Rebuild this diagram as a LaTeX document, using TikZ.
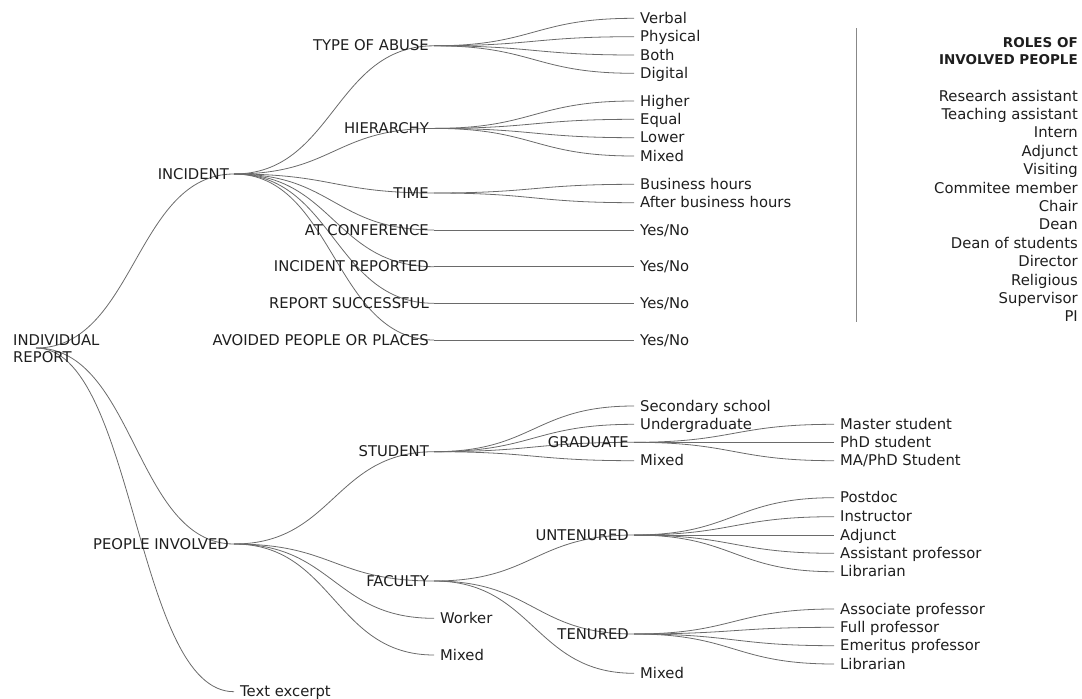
\documentclass[tikz,border=0pt]{standalone}
\usepackage{fontspec}
\setmainfont{DejaVu Sans}
\usepackage{tikz}
\usetikzlibrary{calc,backgrounds}
\definecolor{ink}{HTML}{1E1E1E}
\definecolor{twiggray}{HTML}{6A6A6A}

\tikzset{
  twig/.style={draw=twiggray, line width=0.8pt},
  inlbl/.style={anchor=base east, xshift=-5pt, yshift=-5pt, inner sep=0pt, text=ink},
  leaflbl/.style={anchor=base west, xshift=6pt, yshift=-5pt, inner sep=0pt, text=ink},
  rolelbl/.style={anchor=base east, inner sep=0pt, text=ink},
}

\begin{document}
\begin{tikzpicture}[x=1pt,y=-1pt,font=\fontsize{14.8}{16}\selectfont]
  \useasboundingbox (0,0) rectangle (1082,699);

  % root
  \coordinate (root) at (36,348);
  \node[anchor=north west, align=left, inner sep=0pt, text=ink,
        font=\fontsize{14.8}{17}\selectfont] (rootL) at (13,334.5) {INDIVIDUAL\\REPORT};

  % inner branch points
  \foreach \n/\x/\y/\t in {incident/234/174/INCIDENT, abuse/434/45.8/TYPE OF ABUSE,
      hierarchy/434/128.4/HIERARCHY, time/434/193/TIME, conference/434/230/AT CONFERENCE,
      reported/434/266.7/INCIDENT REPORTED, successful/434/303.3/REPORT SUCCESSFUL,
      avoided/434/340/AVOIDED PEOPLE OR PLACES, people/234/544/PEOPLE INVOLVED,
      student/434/451.7/STUDENT, graduate/634/442.3/GRADUATE, faculty/434/581/FACULTY,
      untenured/634/535/UNTENURED, tenured/634/634/TENURED}
    {\coordinate (\n) at (\x,\y);
     \node[inlbl] (\n L) at (\n) {\t};}

  % leaves
  \foreach \n/\x/\y/\t in {verbal/634/18.3/Verbal, physical/634/36.7/Physical,
      both/634/55/Both, digital/634/73.3/Digital,
      higher/634/101/Higher, equal/634/119.3/Equal, lower/634/137.7/Lower, mixedh/634/156/Mixed,
      business/634/184.3/Business hours, after/634/202.7/After business hours,
      yes1/634/230/{Yes/No}, yes2/634/266.7/{Yes/No}, yes3/634/303.3/{Yes/No}, yes4/634/340/{Yes/No},
      secondary/634/406/Secondary school, undergrad/634/424.3/Undergraduate, mixeds/634/460.7/Mixed,
      master/834/424.3/Master student, phd/834/442.3/PhD student, maphd/834/460.7/{MA/PhD Student},
      postdoc/834/497.7/Postdoc, instructor/834/516.7/Instructor, adjunct/834/535/Adjunct,
      assistant/834/553.3/Assistant professor, librarian/834/571.7/Librarian,
      associate/834/609/Associate professor, full/834/627.3/Full professor,
      emeritus/834/645.7/Emeritus professor, librarianb/834/664/Librarian,
      mixedf/634/673.3/Mixed, worker/434/618.3/Worker, mixedp/434/655/Mixed,
      excerpt/234/691.7/Text excerpt}
    {\coordinate (\n) at (\x,\y);
     \node[leaflbl] (\n L) at (\n) {\t};}

  % links
  \begin{scope}[on background layer]
    \foreach \a/\b in {root/incident, root/people, root/excerpt,
        incident/abuse, incident/hierarchy, incident/time, incident/conference,
        incident/reported, incident/successful, incident/avoided,
        abuse/verbal, abuse/physical, abuse/both, abuse/digital,
        hierarchy/higher, hierarchy/equal, hierarchy/lower, hierarchy/mixedh,
        time/business, time/after, conference/yes1, reported/yes2,
        successful/yes3, avoided/yes4,
        people/student, people/faculty, people/worker, people/mixedp,
        student/secondary, student/undergrad, student/graduate, student/mixeds,
        graduate/master, graduate/phd, graduate/maphd,
        faculty/untenured, faculty/tenured, faculty/mixedf,
        untenured/postdoc, untenured/instructor, untenured/adjunct,
        untenured/assistant, untenured/librarian,
        tenured/associate, tenured/full, tenured/emeritus, tenured/librarianb}
      \draw[twig] let \p1=(\a), \p2=(\b) in
        (\p1) .. controls ({0.5*\x1+0.5*\x2},\y1) and ({0.5*\x1+0.5*\x2},\y2) .. (\p2);
  \end{scope}

  % roles panel
  \draw[draw=twiggray!80, line width=0.8pt] (856,28) -- (856,322);
  \node[rolelbl, font=\fontsize{13.5}{17}\selectfont\bfseries, align=right,
        anchor=north east] (rolesT) at (1078,37.5) {ROLES OF\\INVOLVED PEOPLE};
  \foreach \r [count=\i] in {Research assistant, Teaching assistant, Intern, Adjunct,
      Visiting, Commitee member, Chair, Dean, Dean of students, Director,
      Religious, Supervisor, PI}
    \node[rolelbl] (role\i) at (1078,{82.6+18.4*\i}) {\r};
\end{tikzpicture}
\end{document}
